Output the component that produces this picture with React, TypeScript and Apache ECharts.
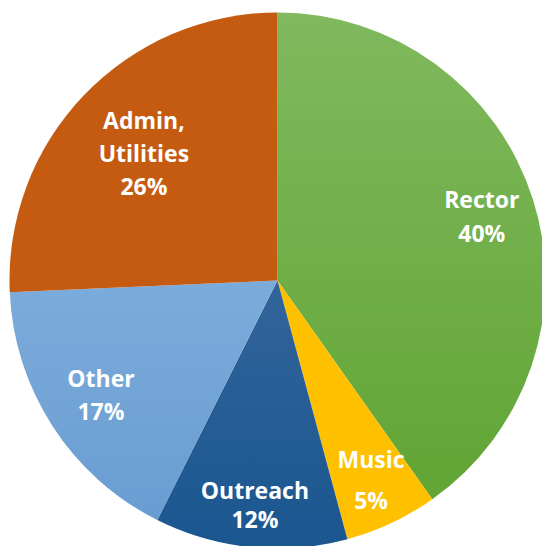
import React, { useEffect, useRef } from "react";
import * as echarts from "echarts";

const categories = ["Rector", "Music", "Outreach", "Other", "Admin,\nUtilities"];
const values = [40.2, 5.6, 11.6, 16.9, 25.7];
const percentLabels = ["40%", "5%", "12%", "17%", "26%"];

const CX = 277.5;
const CY = 280.5;
const R = 268;
const labelRadius = [0.8, 0.82, 0.84, 0.785, 0.69];
const labelLineHeights = [34, 41, 29, 33, 33];

function grad(top: string, bottom: string) {
  return new echarts.graphic.LinearGradient(0, CY - R, 0, CY + R, [
    { offset: 0, color: top },
    { offset: 1, color: bottom },
  ], true);
}

const colors = [
  grad("#80b95e", "#5ea330"),
  grad("#ffc000", "#ffc000"),
  grad("#4a72a4", "#1a5690"),
  grad("#90bce6", "#679bd0"),
  grad("#c55a11", "#c55a11"),
];

export default function App() {
  const ref = useRef<HTMLDivElement>(null);
  useEffect(() => {
    if (!ref.current) return;
    const chart = echarts.init(ref.current, undefined, { renderer: "svg" });
    const total = values.reduce((a, b) => a + b, 0);
    const mids: number[] = [];
    let acc = 0;
    values.forEach((v) => {
      const a0 = (acc / total) * 2 * Math.PI;
      acc += v;
      const a1 = (acc / total) * 2 * Math.PI;
      mids.push((a0 + a1) / 2);
    });
    chart.setOption({
      animation: false,
      series: [
        {
          type: "pie",
          center: [CX, CY],
          radius: [0, R],
          startAngle: 90,
          clockwise: true,
          avoidLabelOverlap: false,
          data: categories.map((name, i) => ({
            name,
            value: values[i],
            itemStyle: { color: colors[i] },
            label: { lineHeight: labelLineHeights[i] },
          })),
          label: {
            show: true,
            position: "inside",
            formatter: (p: any) => `${p.name}\n${percentLabels[p.dataIndex]}`,
            color: "#ffffff",
            fontFamily: "Open Sans",
            fontWeight: "bold",
            fontSize: 23,
            align: "center",
            verticalAlign: "middle",
          },
          labelLine: { show: false },
          labelLayout: (p: any) => {
            const i = p.dataIndex;
            const a = mids[i];
            const rr = labelRadius[i] * R;
            return {
              x: CX + rr * Math.sin(a),
              y: CY - rr * Math.cos(a),
              align: "center",
              verticalAlign: "middle",
            };
          },
          itemStyle: { borderWidth: 0 },
          emphasis: { disabled: true },
        },
      ],
    });
    return () => chart.dispose();
  }, []);
  return <div ref={ref} style={{ width: 542, height: 546, position: "absolute", left: 0, top: 0 }} />;
}
